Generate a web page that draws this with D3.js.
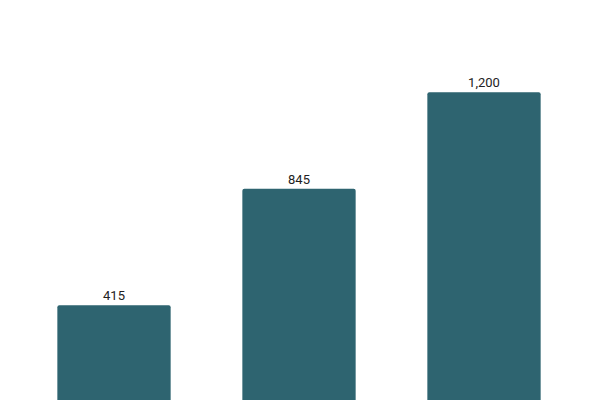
<!DOCTYPE html>
<html>
<head>
<meta charset="utf-8">
<script src="https://cdn.jsdelivr.net/npm/d3@7"></script>
<style>
  html, body { margin: 0; padding: 0; background: #fff; }
  svg { display: block; }
</style>
</head>
<body>
<div id="chart"></div>
<script>
var categories = ["A", "B", "C"];
var values = [415, 845, 1200];

var width = 600, height = 400;

var svg = d3.select("#chart")
  .append("svg")
    .attr("width", width)
    .attr("height", height);

// band scale for the three bars
var x = d3.scaleBand()
    .domain(categories)
    .range([21.5, 576.5])
    .paddingInner(0.3875)
    .paddingOuter(0.19375);

// baseline sits just below the visible area
var y = d3.scaleLinear()
    .domain([0, 1400])
    .range([418, 38]);

var fmt = d3.format(",");

svg.selectAll("rect")
  .data(values)
  .enter()
  .append("rect")
    .attr("x", function(d, i) { return x(categories[i]); })
    .attr("y", function(d) { return y(d); })
    .attr("width", x.bandwidth())
    .attr("height", function(d) { return y(0) - y(d); })
    .attr("rx", 2)
    .style("fill", "#2e6470");

svg.selectAll("text.label")
  .data(values)
  .enter()
  .append("text")
    .attr("class", "label")
    .attr("x", function(d, i) { return x(categories[i]) + x.bandwidth() / 2; })
    .attr("y", function(d) { return y(d) - 5; })
    .attr("text-anchor", "middle")
    .style("font-family", "Roboto, sans-serif")
    .style("font-size", "13px")
    .style("fill", "#222")
    .text(function(d) { return fmt(d); });
</script>
</body>
</html>
